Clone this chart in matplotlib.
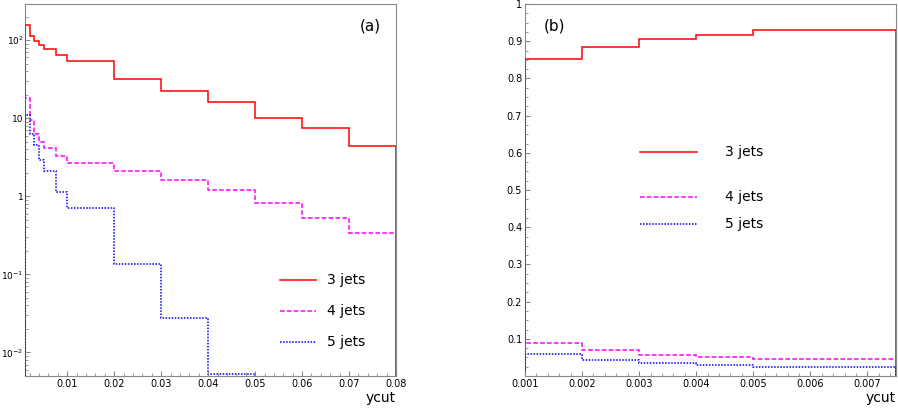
import numpy as np
import matplotlib
matplotlib.use("Agg")
import matplotlib.pyplot as plt
from matplotlib.ticker import FixedLocator, FuncFormatter, LogLocator, AutoMinorLocator

# bin edges in ycut
edges_a = [0.001, 0.002, 0.003, 0.004, 0.005, 0.0075, 0.01, 0.02, 0.03, 0.04, 0.05, 0.06, 0.07, 0.08]
jets3_a = [155, 112, 97, 86, 76, 64, 54, 32, 22.6, 16, 10, 7.4, 4.4]
jets4_a = [18, 9.5, 6.2, 5.0, 4.2, 3.3, 2.7, 2.1, 1.62, 1.2, 0.82, 0.53, 0.34]
jets5_a = [11, 6.2, 4.5, 2.9, 2.1, 1.15, 0.7, 0.135, 0.028, 0.0053, 0, 0, 0]

edges_b = [0.001, 0.002, 0.003, 0.004, 0.005, 0.0075]
jets3_b = [0.852, 0.885, 0.907, 0.918, 0.93]
jets4_b = [0.090, 0.070, 0.057, 0.052, 0.046]
jets5_b = [0.058, 0.044, 0.035, 0.029, 0.023]

labels = ["3 jets", "4 jets", "5 jets"]
colors = ["red", "magenta", "blue"]
styles = ["-", (0, (3, 1.5)), (0, (1, 1))]

W, H = 898, 409
fig = plt.figure(figsize=(W / 100, H / 100), dpi=100)
ax1 = fig.add_axes([25 / W, 33 / H, 371 / W, 372 / H])
ax2 = fig.add_axes([525 / W, 33 / H, 371 / W, 372 / H])

for ax in (ax1, ax2):
    for s in ax.spines.values():
        s.set_color("#888888")
        s.set_zorder(0)
    ax.tick_params(which="both", direction="in", labelsize=7, color="#888888", pad=2)

# (a) log panel
base = 1e-6
for vals, c, ls in zip([jets3_a, jets4_a, jets5_a], colors, styles):
    v = [x if x > 0 else base for x in vals]
    ax1.stairs(v, edges_a, baseline=base, color=c, linestyle=ls, lw=1.1, clip_on=True)
ax1.set_yscale("log")
ax1.set_xlim(0.001, 0.08)
ax1.set_ylim(0.005, 290)
ax1.xaxis.set_major_locator(FixedLocator([0.01, 0.02, 0.03, 0.04, 0.05, 0.06, 0.07, 0.08]))
ax1.xaxis.set_minor_locator(FixedLocator(np.arange(0.002, 0.08, 0.002)))
ax1.xaxis.set_major_formatter(FuncFormatter(lambda v, p: f"{v:.2f}"))
ax1.yaxis.set_major_locator(LogLocator(base=10, numticks=10))
ax1.yaxis.set_minor_locator(LogLocator(base=10, subs=np.arange(2, 10), numticks=10))


def logfmt(v, p):
    if abs(v - 1) < 1e-9:
        return "1"
    if abs(v - 10) < 1e-9:
        return "10"
    return r"$10^{%d}$" % round(np.log10(v))


ax1.yaxis.set_major_formatter(FuncFormatter(logfmt))
ax1.tick_params(axis="y", labelsize=6.5, pad=1)
ax1.text(0.93, 0.93, "(a)", transform=ax1.transAxes, fontsize=11, ha="center")

# (b) linear panel
for vals, c, ls in zip([jets3_b, jets4_b, jets5_b], colors, styles):
    ax2.stairs(vals, edges_b, baseline=0, color=c, linestyle=ls, lw=1.1)
ax2.set_xlim(0.001, 0.0075)
ax2.set_ylim(0, 1)
ax2.xaxis.set_major_locator(FixedLocator([0.001, 0.002, 0.003, 0.004, 0.005, 0.006, 0.007]))
ax2.xaxis.set_minor_locator(AutoMinorLocator(5))
ax2.xaxis.set_major_formatter(FuncFormatter(lambda v, p: f"{v:.3f}"))
ax2.yaxis.set_major_locator(FixedLocator(np.arange(0.1, 1.01, 0.1)))
ax2.yaxis.set_minor_locator(AutoMinorLocator(4))
ax2.yaxis.set_major_formatter(FuncFormatter(lambda v, p: "1" if v > 0.95 else f"{v:.1f}"))
ax2.text(0.08, 0.93, "(b)", transform=ax2.transAxes, fontsize=11, ha="center")

# hand-placed legends (figure pixels)
def legend(x0, x1, xt, ys):
    for y, lab, c, ls in zip(ys, labels, colors, styles):
        fig.add_artist(plt.Line2D([x0 / W, x1 / W], [1 - y / H, 1 - y / H], color=c, linestyle=ls, lw=1.1))
        fig.text(xt / W, 1 - y / H, lab, fontsize=10, va="center")


legend(280, 316, 327, [280, 311, 342])
legend(640, 697, 725, [152, 197, 224])

fig.text(396 / W, 4 / H, "ycut", fontsize=10, ha="right", va="bottom")
fig.text(896 / W, 4 / H, "ycut", fontsize=10, ha="right", va="bottom")

fig.savefig("out.png", dpi=100)
